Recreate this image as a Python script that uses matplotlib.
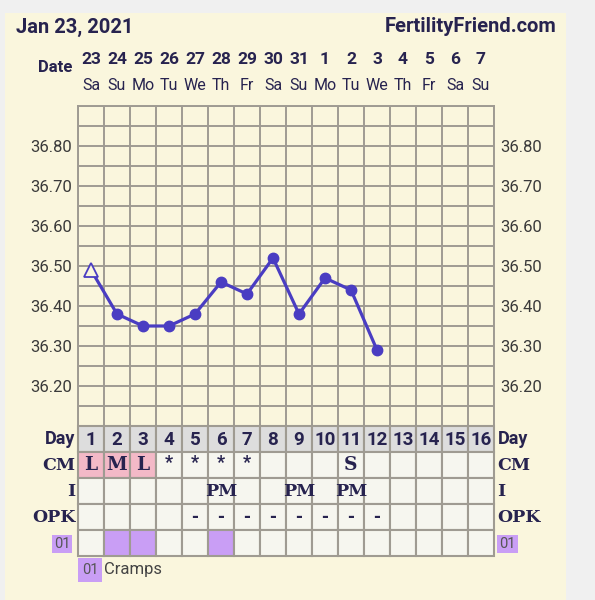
import numpy as np
import matplotlib
matplotlib.use("Agg")
import matplotlib.pyplot as plt
from matplotlib.patches import Rectangle
from matplotlib.transforms import blended_transform_factory

# ---------------- data ----------------
days = list(range(1, 17))
date_numbers = ["23", "24", "25", "26", "27", "28", "29", "30", "31",
                "1", "2", "3", "4", "5", "6", "7"]
weekdays = ["Sa", "Su", "Mo", "Tu", "We", "Th", "Fr", "Sa", "Su",
            "Mo", "Tu", "We", "Th", "Fr", "Sa", "Su"]
temp_days = [1, 2, 3, 4, 5, 6, 7, 8, 9, 10, 11, 12]
temps = [36.49, 36.38, 36.35, 36.35, 36.38, 36.46, 36.43, 36.52,
         36.38, 36.47, 36.44, 36.29]
y_ticks = [36.20, 36.30, 36.40, 36.50, 36.60, 36.70, 36.80]
cm_days = [1, 2, 3, 4, 5, 6, 7, 11]
cm_vals = ["L", "M", "L", "*", "*", "*", "*", "S"]
cm_highlight = [1, 2, 3]
i_days = [6, 9, 11]
i_vals = ["PM", "PM", "PM"]
opk_days = [5, 6, 7, 8, 9, 10, 11, 12]
opk_vals = ["-", "-", "-", "-", "-", "-", "-", "-"]
cramp_days = [2, 3, 6]
row_labels = ["Day", "CM", "I", "OPK"]
title_left = "Jan 23, 2021"
title_right = "FertilityFriend.com"

# ---------------- style ----------------
W, H = 595, 600
outer_bg = "#f0f0f0"
cream = "#faf6dd"
grid_c = "#9f9b92"
cell_bg = "#f6f6ef"
dayrow_bg = "#dddddd"
pink = "#f3b9c7"
purple = "#c99ef5"
navy = "#27234f"
tick_c = "#3a3a3a"
line_c = "#4a3dc2"
SANS = ["Roboto", "DejaVu Sans"]
SERIF = ["DejaVu Serif"]

fig = plt.figure(figsize=(W / 100, H / 100), dpi=100, facecolor=outer_bg)
fig.patches.append(Rectangle((5 / W, 0), (566 - 5) / W, 1 - 13 / H,
                             transform=fig.transFigure, facecolor=cream,
                             edgecolor="none", zorder=-10))


def ax_rect(l, t, r, b):
    return [l / W, 1 - b / H, (r - l) / W, (b - t) / H]


# ---------------- chart ----------------
ax = fig.add_axes(ax_rect(78, 106, 494, 426))
ax.set_facecolor(cream)
ax.set_xlim(0.5, 16.5)
ax.set_ylim(36.10, 36.90)
for v in np.arange(36.10, 36.901, 0.05):
    ax.axhline(v, color=grid_c, lw=1.4, zorder=1)
for x in np.arange(0.5, 16.6, 1.0):
    ax.axvline(x, color=grid_c, lw=1.4, zorder=1)
for s in ax.spines.values():
    s.set_color(grid_c)
    s.set_linewidth(1.4)
ax.set_xticks([])
ax.set_yticks(y_ticks)
ax.set_yticklabels([f"{v:.2f}" for v in y_ticks])
ax.tick_params(axis="y", length=0, pad=4.5, labelleft=True, labelright=True,
               labelsize=12, labelcolor=tick_c)
for lab in ax.get_yticklabels():
    lab.set_family(SANS)

ax.plot(temp_days, temps, color=line_c, lw=2.3, zorder=3)
ax.plot(temp_days[1:], temps[1:], "o", ms=7.5, color=line_c, zorder=4)
ax.plot(temp_days[:1], temps[:1], "^", ms=10, mfc=cream, mec=line_c,
        mew=1.3, zorder=5)

# header
trans = blended_transform_factory(ax.transData, fig.transFigure)
for d, num, wd in zip(days, date_numbers, weekdays):
    ax.text(d, 1 - 59 / H, num, transform=trans, ha="center", va="center",
            fontsize=12.5, weight="bold", color=navy, family=SANS)
    ax.text(d, 1 - 86 / H, wd, transform=trans, ha="center", va="center",
            fontsize=11.5, color=navy, family=SANS)
fig.text(16 / W, 1 - 27 / H, title_left, ha="left", va="center",
         fontsize=14.5, weight="bold", color=navy, family=SANS)
fig.text(556 / W, 1 - 27 / H, title_right, ha="right", va="center",
         fontsize=14.5, weight="bold", color=navy, family=SANS)
fig.text(72 / W, 1 - 67 / H, "Date", ha="right", va="center",
         fontsize=12, weight="bold", color=navy, family=SANS)

# ---------------- table ----------------
tax = fig.add_axes(ax_rect(78, 426, 494, 556))
tax.set_xlim(0.5, 16.5)
tax.set_ylim(5, 0)
tax.axis("off")

for r in range(5):
    for d in days:
        fc = cell_bg
        if r == 0:
            fc = dayrow_bg
        elif r == 1 and d in cm_highlight:
            fc = pink
        elif r == 4 and d in cramp_days:
            fc = purple
        tax.add_patch(Rectangle((d - 0.5, r), 1, 1, facecolor=fc,
                                edgecolor=grid_c, lw=1.5, clip_on=False))

for d in days:
    tax.text(d, 0.52, str(d), ha="center", va="center", fontsize=13.5,
             weight="bold", color=navy, family=SANS)
for d, v in zip(cm_days, cm_vals):
    if v == "*":
        tax.text(d, 1.42, v, ha="center", va="center", fontsize=13,
                 weight="bold", color=navy, family=SANS)
    else:
        tax.text(d, 1.5, v, ha="center", va="center", fontsize=13.5,
                 weight="bold", color=navy, family=SERIF)
for d, v in zip(i_days, i_vals):
    tax.text(d, 2.5, v, ha="center", va="center", fontsize=12.5,
             weight="bold", color=navy, family=SERIF)
for d, v in zip(opk_days, opk_vals):
    tax.text(d, 3.5, v, ha="center", va="center", fontsize=12,
             weight="bold", color=navy, family=SERIF)

for r, lab in enumerate(row_labels):
    fam = SANS if lab == "Day" else SERIF
    size = 13 if lab == "Day" else 12.5
    tax.text(0.39, r + 0.5, lab, ha="right", va="center", fontsize=size,
             weight="bold", color=navy, family=fam)
    tax.text(16.63, r + 0.5, lab, ha="left", va="center", fontsize=size,
             weight="bold", color=navy, family=fam)

# "01" symptom boxes
for x0, x1 in [(-0.5, 0.27), (16.615, 17.42)]:
    tax.add_patch(Rectangle((x0, 4.19), x1 - x0, 0.69, facecolor=purple,
                            edgecolor="none", clip_on=False))
    tax.text((x0 + x1) / 2, 4.55, "01", ha="center", va="center",
             fontsize=10.5, color="#555555", family=SANS)

# legend
tax.add_patch(Rectangle((0.5, 5.08), 0.92, 0.92, facecolor=purple,
                        edgecolor="none", clip_on=False))
tax.text(0.96, 5.55, "01", ha="center", va="center", fontsize=10.5,
         color="#555555", family=SANS)
tax.text(1.5, 5.53, "Cramps", ha="left", va="center", fontsize=12,
         color="#444444", family=SANS)

fig.savefig("out.png", dpi=100, facecolor=outer_bg)
